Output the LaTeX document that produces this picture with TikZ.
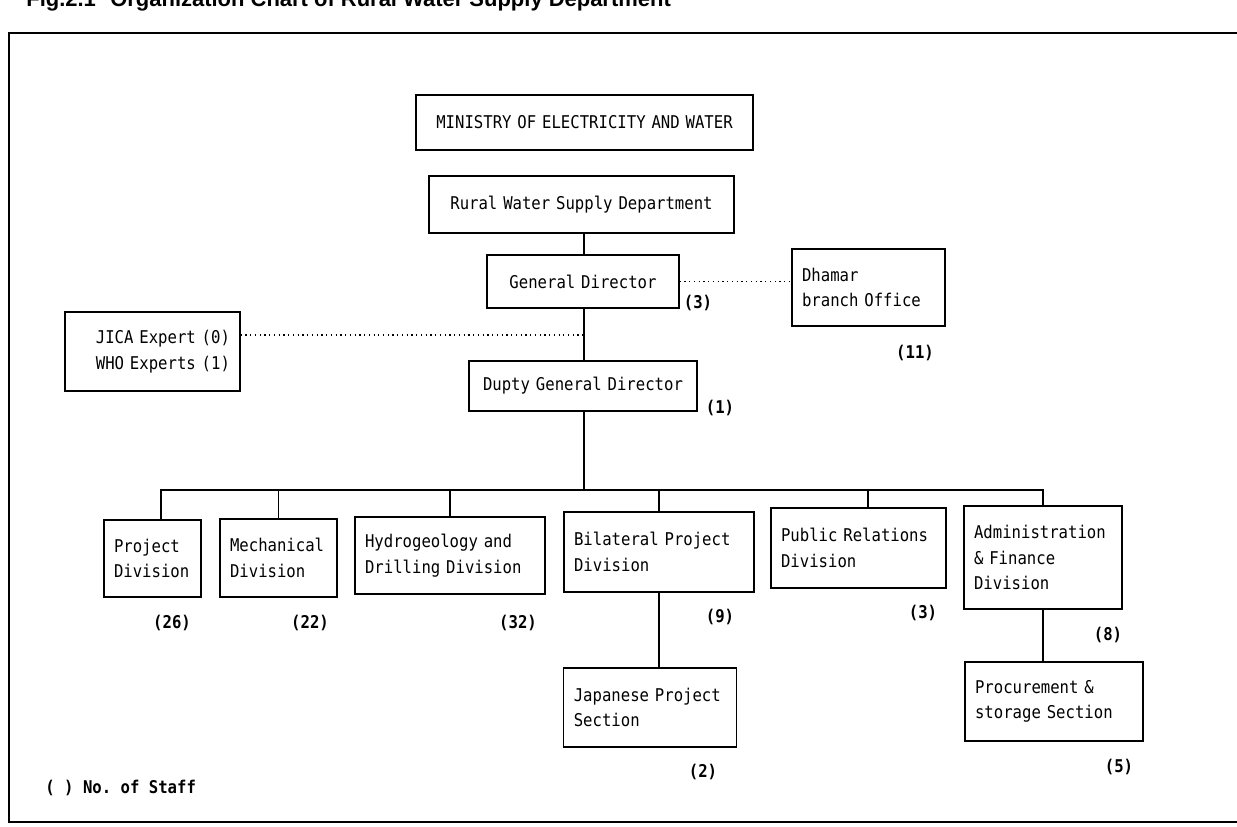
\documentclass[tikz,border=0pt]{standalone}
\usepackage{fontspec}
\newfontfamily\chartfont[FakeStretch=0.89, WordSpace={1,0,0}]{DejaVu Sans Mono}
\newfontfamily\titlefont{Liberation Sans}
\usetikzlibrary{calc}

\tikzset{
	orgbox/.style={draw, line width=0.8pt, inner xsep=0.2cm, inner ysep=0pt, font=\chartfont\frenchspacing\fontsize{10}{14.5}\selectfont},
	staff/.style={inner sep=0pt, font=\chartfont\frenchspacing\bfseries\fontsize{10}{12}\selectfont},
	link/.style={line width=0.8pt},
	dotlink/.style={dotted, line width=0.7pt}
}

\begin{document}
\begin{tikzpicture}[x=0.02cm, y=-0.02cm]
	\useasboundingbox (0,0) rectangle (1237,827);
	
	\draw[line width=0.9pt] (1260,33) -- (9,33) -- (9,822) -- (1260,822);
	\node[anchor=base west, inner sep=0pt, font=\titlefont\bfseries\fontsize{12.5}{14}\selectfont] (figno) at (26,7) {Fig.2.1};
	\node[anchor=base west, inner sep=0pt, font=\titlefont\bfseries\fontsize{12.5}{14}\selectfont] (figtitle) at (110,7) {Organization Chart of Rural Water Supply Department};
	
	\newcommand\drawBox[7][align=left]{\node[orgbox, #1, text width=#5, minimum height=#6*0.02cm] at (#3,#4) (#2) {#7};}
	\newcommand\drawStaff[4]{\node[staff] at (#2,#3) (#1) {#4};}
	
	\drawBox[align=center, line width=1.4pt]{ministry}{584.5}{122.5}{6.34cm}{55}{MINISTRY OF ELECTRICITY AND WATER}
	\drawBox[align=center]{rwsd}{581.5}{204.5}{5.7cm}{57}{Rural Water Supply Department}
	\drawBox[align=center]{gd}{583}{281.5}{3.44cm}{53}{General Director}
	\drawBox{dhamar}{868.5}{287.5}{2.66cm}{77}{Dhamar\\branch Office}
	\drawBox[align=right]{jica}{152.5}{351.5}{3.1cm}{79}{JICA Expert (0)\\WHO Experts (1)}
	\drawBox[align=center]{dgd}{583}{386}{4.16cm}{50}{Dupty General Director}
	
	\drawBox{proj}{152.5}{558.5}{1.54cm}{77}{Project\\Division}
	\drawBox{mech}{278.5}{558}{1.94cm}{78}{Mechanical\\Division}
	\drawBox{hydro}{450}{555.5}{3.4cm}{77}{Hydrogeology and\\Drilling Division}
	\drawBox{bil}{659}{552}{3.4cm}{80}{Bilateral Project\\Division}
	\drawBox{pr}{858.5}{548}{3.1cm}{80}{Public Relations\\Division}
	\drawBox{admin}{1043}{557.5}{2.76cm}{103}{Administration\\\& Finance\\Division}
	\drawBox{jap}{650}{707.5}{3.05cm}{79}{Japanese Project\\Section}
	\drawBox{proc}{1054}{701.5}{3.16cm}{79}{Procurement \&\\storage Section}
	
	\drawStaff{gdstaff}{698}{303}{(3)}
	\drawStaff{dhamarstaff}{915}{353}{(11)}
	\drawStaff{dgdstaff}{720}{408}{(1)}
	\drawStaff{projstaff}{172}{623}{(26)}
	\drawStaff{mechstaff}{310}{623}{(22)}
	\drawStaff{hydrostaff}{518}{623}{(32)}
	\drawStaff{bilstaff}{720}{617}{(9)}
	\drawStaff{prstaff}{923}{613}{(3)}
	\drawStaff{adminstaff}{1108}{635}{(8)}
	\drawStaff{japstaff}{703}{772}{(2)}
	\drawStaff{procstaff}{1119}{767}{(5)}
	\node[staff, anchor=west] (legend) at (45,788) {( ) No. of Staff};
	
	\coordinate (trunk) at (584,490);
	\coordinate (jicajoin) at (584,335);
	\coordinate (projdrop) at (161,490);
	\coordinate (prdrop) at (868,490);
	\draw[link] (trunk |- rwsd.south) -- (trunk |- gd.north);
	\draw[link] (trunk |- gd.south) -- (trunk |- dgd.north);
	\draw[link] (trunk |- dgd.south) -- (trunk);
	\draw[link] (projdrop |- proj.north) -- (projdrop) -- (admin.north |- trunk) -- (admin.north);
	\draw[link] (prdrop |- pr.north) -- (prdrop);
	\foreach \d in {mech,hydro,bil}
	{
		\draw[link] (\d.north) -- (\d.north |- trunk);
	}
	\draw[link] (bil.south) -- (bil.south |- jap.north);
	\draw[link] (admin.south) -- (admin.south |- proc.north);
	
	\draw[dotlink] (gd.east) -- (gd.east -| dhamar.west);
	\draw[dotlink] (jicajoin -| jica.east) -- (jicajoin);
\end{tikzpicture}
\end{document}
